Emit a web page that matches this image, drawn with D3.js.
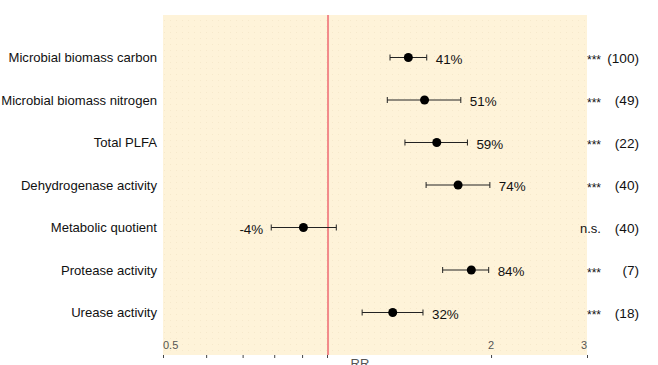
<!DOCTYPE html>
<html>
<head>
<meta charset="utf-8">
<script src="https://cdn.jsdelivr.net/npm/d3@7/dist/d3.min.js"></script>
<style>
  html, body { margin: 0; padding: 0; background: #ffffff; }
  svg { display: block; font-family: "Liberation Sans", Arial, sans-serif; }
</style>
</head>
<body>
<svg id="chart" width="658" height="365"></svg>
<script>
// ---- data ----
const categories = [
  "Microbial biomass carbon",
  "Microbial biomass nitrogen",
  "Total PLFA",
  "Dehydrogenase activity",
  "Metabolic quotient",
  "Protease activity",
  "Urease activity"
];
const rrValues = [1.41, 1.51, 1.59, 1.74, 0.905, 1.84, 1.32];
const ciLower  = [1.305, 1.29, 1.39, 1.52, 0.79, 1.63, 1.16];
const ciUpper  = [1.524, 1.76, 1.81, 1.99, 1.04, 1.98, 1.50];
const pctLabels = ["41%", "51%", "59%", "74%", "-4%", "84%", "32%"];
const sigLabels = ["***", "***", "***", "***", "n.s.", "***", "***"];
const nObs = [100, 49, 22, 40, 40, 7, 18];
const tickValues = [0.5, 0.6, 0.7, 0.8, 0.9, 1, 2, 3];
const tickLabelValues = [0.5, 2, 3];
const refValue = 1;
const xTitle = "RR";

// ---- layout ----
const svg = d3.select("#chart");
const panel = { left: 163, right: 587, top: 15, bottom: 355 };

const x = d3.scaleLog().domain([0.5, 3]).range([panel.left, panel.right]);
const y = d3.scalePoint().domain(categories).range([panel.top, panel.bottom]).padding(1);

// background with faint dotted texture
const defs = svg.append("defs");
const pat = defs.append("pattern")
  .attr("id", "dots").attr("width", 6).attr("height", 6)
  .attr("patternUnits", "userSpaceOnUse");
pat.append("rect").attr("width", 6).attr("height", 6).attr("fill", "#fef3d9");
pat.append("rect").attr("x", 2).attr("y", 2).attr("width", 1).attr("height", 1).attr("fill", "#f6e9cc");

svg.append("rect")
  .attr("x", panel.left).attr("y", panel.top)
  .attr("width", panel.right - panel.left).attr("height", panel.bottom - panel.top)
  .attr("fill", "url(#dots)");

// reference line
svg.append("line")
  .attr("x1", x(refValue) + 1).attr("x2", x(refValue) + 1)
  .attr("y1", panel.top).attr("y2", panel.bottom)
  .attr("stroke", "#f28a8a").attr("stroke-width", 2);

// x axis ticks (below panel)
const axis = d3.axisBottom(x).tickValues(tickValues).tickSize(3).tickFormat("");
const gAxis = svg.append("g").attr("transform", `translate(0,${panel.bottom})`).call(axis);
gAxis.select(".domain").remove();
gAxis.selectAll(".tick line").attr("stroke", "#444").attr("stroke-width", 1);

// tick labels inside panel
svg.append("g").selectAll("text").data(tickLabelValues).join("text")
  .attr("x", d => x(d))
  .attr("y", panel.bottom - 6)
  .attr("text-anchor", (d, i) => i === 0 ? "start" : (i === tickLabelValues.length - 1 ? "end" : "middle"))
  .attr("font-size", 11)
  .attr("fill", "#555")
  .text(d => d);

// axis title (sits at the bottom edge as in the original)
svg.append("text")
  .attr("x", 360).attr("y", 368)
  .attr("text-anchor", "middle")
  .attr("font-size", 13)
  .attr("fill", "#555")
  .text(xTitle);

// category labels
svg.append("g").selectAll("text").data(categories).join("text")
  .attr("x", panel.left - 6)
  .attr("y", d => y(d))
  .attr("dy", "0.35em")
  .attr("text-anchor", "end")
  .attr("font-size", 13.1)
  .attr("fill", "#111")
  .text(d => d);

// error bars
const rows = categories.map((c, i) => ({ c, rr: rrValues[i], lo: ciLower[i], hi: ciUpper[i],
  pct: pctLabels[i], sig: sigLabels[i], n: nObs[i] }));

const g = svg.append("g");
g.selectAll("line.ci").data(rows).join("line").attr("class", "ci")
  .attr("x1", d => x(d.lo)).attr("x2", d => x(d.hi))
  .attr("y1", d => y(d.c)).attr("y2", d => y(d.c))
  .attr("stroke", "#222").attr("stroke-width", 1);
g.selectAll("line.capL").data(rows).join("line").attr("class", "capL")
  .attr("x1", d => x(d.lo)).attr("x2", d => x(d.lo))
  .attr("y1", d => y(d.c) - 3).attr("y2", d => y(d.c) + 3)
  .attr("stroke", "#222").attr("stroke-width", 1);
g.selectAll("line.capR").data(rows).join("line").attr("class", "capR")
  .attr("x1", d => x(d.hi)).attr("x2", d => x(d.hi))
  .attr("y1", d => y(d.c) - 3).attr("y2", d => y(d.c) + 3)
  .attr("stroke", "#222").attr("stroke-width", 1);
g.selectAll("circle").data(rows).join("circle")
  .attr("cx", d => x(d.rr)).attr("cy", d => y(d.c)).attr("r", 4.5)
  .attr("fill", "#000");

// percent labels
g.selectAll("text.pct").data(rows).join("text").attr("class", "pct")
  .attr("x", d => d.rr < 1 ? x(d.lo) - 8 : x(d.hi) + 9)
  .attr("y", d => y(d.c))
  .attr("dy", "0.45em")
  .attr("text-anchor", d => d.rr < 1 ? "end" : "start")
  .attr("font-size", 13.4)
  .attr("fill", "#111")
  .text(d => d.pct);

// significance & n
g.selectAll("text.sig").data(rows).join("text").attr("class", "sig")
  .attr("x", 601).attr("y", d => y(d.c))
  .attr("dy", d => d.sig.startsWith("*") ? 6.5 : 5)
  .attr("text-anchor", "end")
  .attr("font-size", d => d.sig.startsWith("*") ? 12 : 13)
  .attr("fill", "#111")
  .text(d => d.sig);
g.selectAll("text.n").data(rows).join("text").attr("class", "n")
  .attr("x", 639).attr("y", d => y(d.c))
  .attr("dy", 5)
  .attr("text-anchor", "end")
  .attr("font-size", 13.6)
  .attr("fill", "#111")
  .text(d => `(${d.n})`);
</script>
</body>
</html>
